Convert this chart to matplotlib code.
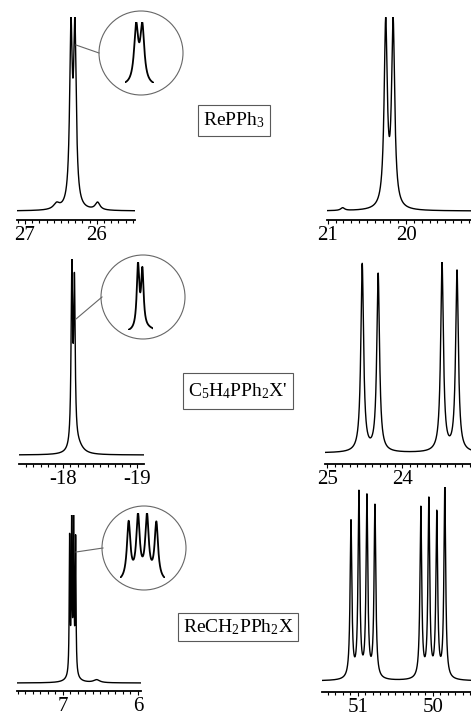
"""
31P NMR spectra of three Re complexes, two regions each, with zoom-in insets.

Peaks are stored as (ppm, relative height, half-width) read off the scan and
rendered as a sum of Lorentzian lines.
"""

import matplotlib
matplotlib.use("Agg")
import matplotlib.pyplot as plt
import numpy as np
from matplotlib.patches import Circle, Rectangle
from matplotlib.lines import Line2D
from matplotlib.ticker import MultipleLocator

plt.rcParams["font.family"] = ["Liberation Serif", "DejaVu Serif"]
plt.rcParams["mathtext.fontset"] = "custom"
plt.rcParams["mathtext.rm"] = "Liberation Serif"
plt.rcParams["mathtext.it"] = "Liberation Serif:italic"
plt.rcParams["axes.unicode_minus"] = False

W, H = 471, 717

# --- peak tables (ppm, height, hwhm) ---
p1_ppm = [26.36, 26.305, 26.56, 25.99]
p1_height = [0.9, 0.9, 0.03, 0.04]
p1_width = [0.022, 0.022, 0.05, 0.04]

p2_ppm = [20.26, 20.165, 20.81]
p2_height = [1.0, 1.0, 0.015]
p2_width = [0.024, 0.024, 0.03]

p3_ppm = [-18.12, -18.155, -18.2]
p3_height = [1.0, 0.9, 0.05]
p3_width = [0.012, 0.012, 0.08]

p4_ppm = [24.533, 24.32, 23.467, 23.267]
p4_height = [189, 179, 190, 182]
p4_width = [0.022, 0.022, 0.022, 0.022]

p5_ppm = [6.91, 6.883, 6.857, 6.83, 6.87, 6.55]
p5_height = [0.93, 1.0, 1.0, 0.92, 0.06, 0.02]
p5_width = [0.006, 0.006, 0.006, 0.006, 0.06, 0.05]

p6_ppm = [51.093, 50.987, 50.88, 50.773, 50.16, 50.053, 49.947, 49.84]
p6_height = [161, 189, 185, 177, 175, 182, 168, 195]
p6_width = [0.014] * 8

labels = [r"RePPh$_3$", r"C$_5$H$_4$PPh$_2$X'", r"ReCH$_2$PPh$_2$X"]


def spectrum(x, ppm, height, width):
    y = np.zeros_like(x)
    for c, h, w in zip(ppm, height, width):
        y += h / (1 + ((x - c) / w) ** 2)
    return y


def fig_box(x0, x1, ytop, ybot):
    return [x0 / W, 1 - ybot / H, (x1 - x0) / W, (ybot - ytop) / H]


def panel(fig, px, xlim, peaks):
    left, right, top, axis_y, base_y = px
    ax = fig.add_axes(fig_box(left, right, top, axis_y))
    x = np.linspace(xlim[0], xlim[1], 4000)
    y = spectrum(x, *peaks)
    ymax = y.max()
    ax.plot(x, y, color="black", lw=1.0)
    ax.set_xlim(*xlim)
    ax.set_ylim(-(axis_y - base_y) / (base_y - top) * ymax, ymax)
    for s in ("left", "right", "top"):
        ax.spines[s].set_visible(False)
    ax.spines["bottom"].set_linewidth(1.3)
    ax.set_yticks([])
    ax.xaxis.set_major_locator(MultipleLocator(1))
    ax.xaxis.set_minor_locator(MultipleLocator(0.1))
    ax.tick_params(axis="x", which="both", direction="out", width=0.8,
                   labelsize=15, pad=1)
    ax.tick_params(axis="x", which="major", length=3)
    ax.tick_params(axis="x", which="minor", length=2)
    ax.patch.set_visible(False)
    return ax


def inset(fig, px, window, peaks, circ, link):
    left, right, top, bottom = px
    ax = fig.add_axes(fig_box(left, right, top, bottom))
    x = np.linspace(window[0], window[1], 800)
    y = spectrum(x, *peaks)
    ax.plot(x, y, color="black", lw=1.3)
    ax.set_xlim(*window)
    ax.set_ylim(y.min(), y.max())
    ax.axis("off")
    cx, cy, r = circ
    fig.add_artist(Circle((cx / 100, (H - cy) / 100), r / 100,
                          transform=fig.dpi_scale_trans, fill=False,
                          edgecolor="0.4", lw=0.8))
    (x0, y0), (x1, y1) = link
    fig.add_artist(Line2D([x0 / W, x1 / W], [1 - y0 / H, 1 - y1 / H],
                          transform=fig.transFigure, color="0.4", lw=0.8))


def label_box(fig, text, x0, x1, y0, y1):
    fig.add_artist(Rectangle((x0 / W, 1 - y1 / H), (x1 - x0) / W, (y1 - y0) / H,
                             transform=fig.transFigure, fill=False,
                             edgecolor="0.35", lw=0.8))
    fig.text((x0 + x1) / 2 / W, 1 - (y0 + y1) / 2 / H, text,
             ha="center", va="center", fontsize=14)


fig = plt.figure(figsize=(W / 100, H / 100), dpi=100)

pk1 = (p1_ppm, p1_height, p1_width)
pk2 = (p2_ppm, p2_height, p2_width)
pk3 = (p3_ppm, p3_height, p3_width)
pk4 = (p4_ppm, p4_height, p4_width)
pk5 = (p5_ppm, p5_height, p5_width)
pk6 = (p6_ppm, p6_height, p6_width)

panel(fig, (17, 135, 17, 220, 211), (27.11, 25.47), pk1)
panel(fig, (327, 471, 17, 220, 211), (21.01, 19.17), pk2)
panel(fig, (19, 144, 259, 464, 455), (-17.41, -19.09), pk3)
panel(fig, (325, 471, 262, 464, 453), (25.03, 23.08), pk4)
panel(fig, (17, 141, 515, 691, 683), (7.61, 5.96), pk5)
panel(fig, (322, 471, 487, 692, 681), (51.48, 49.49), pk6)

inset(fig, (125, 154, 22, 83), (26.46, 26.20), pk1, (141, 53, 42), ((76, 45), (99, 53)))
inset(fig, (128, 153, 262, 330), (-18.04, -18.24), pk3, (143, 297, 42), ((76, 319), (102, 297)))
inset(fig, (120, 165, 513, 578), (6.935, 6.805), pk5, (144, 548, 42), ((76, 552), (103, 548)))

label_box(fig, labels[0], 198, 270, 105, 136)
label_box(fig, labels[1], 183, 293, 373, 409)
label_box(fig, labels[2], 178, 298, 613, 641)

fig.savefig("out.png", dpi=100)
